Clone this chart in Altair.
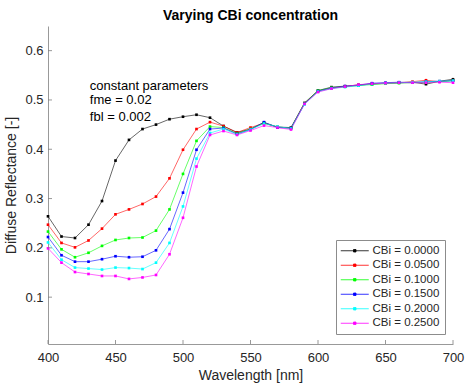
import altair as alt
import pandas as pd

wavelengths = list(range(400, 701, 10))

series_names = ["CBi = 0.0000", "CBi = 0.0500", "CBi = 0.1000",
                "CBi = 0.1500", "CBi = 0.2000", "CBi = 0.2500"]
series_colors = ["#000000", "#ff0000", "#00ff00", "#0000ff", "#00ffff", "#ff00ff"]

cbi_000 = [0.264, 0.223, 0.220, 0.247, 0.295, 0.377, 0.419, 0.441, 0.450, 0.461, 0.466,
           0.470, 0.464, 0.447, 0.434, 0.441, 0.454, 0.445, 0.444, 0.494, 0.519,
           0.526, 0.528, 0.529, 0.533, 0.534, 0.535, 0.536, 0.532, 0.538, 0.542]
cbi_050 = [0.247, 0.210, 0.201, 0.215, 0.239, 0.268, 0.278, 0.289, 0.304, 0.341, 0.399,
           0.441, 0.455, 0.447, 0.434, 0.444, 0.453, 0.445, 0.443, 0.493, 0.518,
           0.524, 0.527, 0.531, 0.532, 0.534, 0.535, 0.537, 0.540, 0.537, 0.540]
cbi_100 = [0.233, 0.197, 0.181, 0.190, 0.204, 0.216, 0.220, 0.221, 0.235, 0.278, 0.350,
           0.417, 0.446, 0.444, 0.432, 0.441, 0.453, 0.445, 0.443, 0.493, 0.519,
           0.525, 0.527, 0.530, 0.531, 0.533, 0.534, 0.535, 0.536, 0.537, 0.539]
cbi_150 = [0.222, 0.185, 0.172, 0.172, 0.177, 0.183, 0.181, 0.182, 0.195, 0.238, 0.312,
           0.399, 0.441, 0.443, 0.431, 0.440, 0.455, 0.444, 0.443, 0.492, 0.518,
           0.524, 0.528, 0.530, 0.534, 0.535, 0.536, 0.535, 0.537, 0.538, 0.539]
cbi_200 = [0.211, 0.176, 0.160, 0.158, 0.156, 0.160, 0.159, 0.157, 0.170, 0.210, 0.284,
           0.381, 0.433, 0.441, 0.430, 0.440, 0.452, 0.446, 0.442, 0.491, 0.517,
           0.523, 0.526, 0.529, 0.532, 0.534, 0.535, 0.536, 0.537, 0.538, 0.539]
cbi_250 = [0.199, 0.170, 0.151, 0.147, 0.143, 0.143, 0.137, 0.140, 0.145, 0.187, 0.261,
           0.365, 0.429, 0.437, 0.429, 0.438, 0.448, 0.444, 0.440, 0.492, 0.516,
           0.523, 0.527, 0.531, 0.533, 0.534, 0.535, 0.535, 0.535, 0.536, 0.535]

all_series = [cbi_000, cbi_050, cbi_100, cbi_150, cbi_200, cbi_250]

note_lines = ["constant parameters", "fme = 0.02", "fbl = 0.002"]
note_x = [431, 431, 431]
note_y = [0.528, 0.499, 0.466]

x_ticks = [400, 450, 500, 550, 600, 650, 700]
y_ticks = [0.1, 0.2, 0.3, 0.4, 0.5, 0.6]

rows = []
for i, (name, vals) in enumerate(zip(series_names, all_series)):
    for w, v in zip(wavelengths, vals):
        rows.append({"wl": w, "r": v, "series": name, "order": i})
df = pd.DataFrame(rows)

notes = pd.DataFrame({"t": note_lines, "x": note_x, "y": note_y})
xt = pd.DataFrame({"v": x_ticks})
yt = pd.DataFrame({"v": y_ticks})

W, H = 405, 318
FONT = "Liberation Sans"

xscale = alt.Scale(domain=[400, 700], nice=False, zero=False)
yscale = alt.Scale(domain=[0.005, 0.65], nice=False, zero=False)

lines = alt.Chart(df).mark_line(
    strokeWidth=0.6,
    point=alt.OverlayMarkDef(filled=True, size=7, shape="square"),
).encode(
    x=alt.X("wl:Q", scale=xscale,
            axis=alt.Axis(values=x_ticks, format="d", tickSize=0, labelPadding=7,
                          labelFlush=False,
                          title="Wavelength [nm]", titlePadding=4, grid=False)),
    y=alt.Y("r:Q", scale=yscale,
            axis=alt.Axis(values=y_ticks, format=".1f", tickSize=0, labelPadding=5,
                          labelFlush=False,
                          title="Diffuse Reflectance [-]", titlePadding=6, grid=False)),
    color=alt.Color("series:N",
                    scale=alt.Scale(domain=series_names, range=series_colors),
                    legend=alt.Legend(
                        title=None, orient="none", legendX=288, legendY=214,
                        padding=5, strokeColor="#8c8c8c", fillColor="white",
                        labelFontSize=11.5, labelFont=FONT, labelColor="#262626",
                        symbolType="M-2.8,0H2.8M-0.25,-0.25H0.25V0.25H-0.25Z",
                        symbolSize=100, symbolStrokeWidth=0.8,
                        symbolOffset=8, labelOffset=12, rowPadding=1.5,
                    )),
    order=alt.Order("order:Q"),
)

text = alt.Chart(notes).mark_text(
    align="left", baseline="middle", fontSize=13, font=FONT, color="#000000"
).encode(
    x=alt.X("x:Q", scale=xscale),
    y=alt.Y("y:Q", scale=yscale),
    text="t:N",
)

xtick_layer = alt.Chart(xt).mark_rule(color="#7f7f7f", strokeWidth=0.8).encode(
    x=alt.X("v:Q", scale=xscale),
    y=alt.value(H),
    y2=alt.value(H - 4),
)
ytick_layer = alt.Chart(yt).mark_rule(color="#7f7f7f", strokeWidth=0.8).encode(
    y=alt.Y("v:Q", scale=yscale),
    x=alt.value(0),
    x2=alt.value(4),
)

chart = alt.layer(lines, text, xtick_layer, ytick_layer).properties(
    width=W, height=H,
    title=alt.TitleParams("Varying CBi concentration", fontSize=14, fontWeight="bold",
                          font=FONT, anchor="middle", color="#000000", offset=3),
    autosize=alt.AutoSizeParams(type="none"),
    padding={"left": 48, "top": 26, "right": 12, "bottom": 40},
).configure_axis(
    labelFont=FONT, titleFont=FONT, labelFontSize=13, titleFontSize=14,
    titleFontWeight="normal", labelColor="#262626", titleColor="#262626",
    domainColor="#7f7f7f", domainWidth=0.8,
).configure_view(strokeWidth=0)

chart.save("out.html", embed_options={"renderer": "svg", "actions": False})
